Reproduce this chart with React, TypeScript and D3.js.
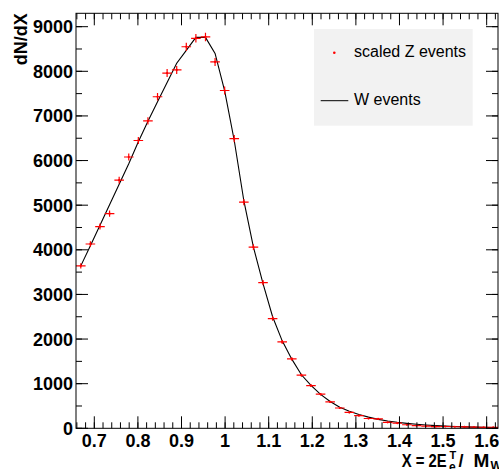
import React from "react";
import * as d3 from "d3";

// Bin centres (X = 2E_T / M_W)
const binCenters = [
  0.669, 0.691, 0.713, 0.735, 0.757, 0.779, 0.801, 0.823, 0.845, 0.867, 0.889,
  0.911, 0.933, 0.955, 0.977, 0.999, 1.021, 1.043, 1.065, 1.087, 1.109, 1.131,
  1.153, 1.175, 1.197, 1.219, 1.241, 1.263, 1.285, 1.307, 1.329, 1.351, 1.373,
  1.395, 1.417, 1.439, 1.461, 1.483, 1.505, 1.527, 1.549, 1.571, 1.593, 1.615,
];

// scaled Z events (red markers)
const zEvents = [
  3640, 4130, 4520, 4810, 5560, 6080, 6450, 6890, 7430, 7960, 8030,
  8550, 8740, 8770, 8210, 7570, 6490, 5070, 4060, 3265, 2460, 1935,
  1555, 1190, 955, 765, 590, 455, 355, 285, 220, 210, 135,
  115, 80, 60, 50, 38, 40, 35, 30, 25, 20, 20,
];

// W events (black line)
const wEvents = [
  3640, 4090, 4550, 5010, 5470, 5930, 6420, 6880, 7320, 7750, 8180,
  8470, 8760, 8760, 8400, 7560, 6450, 5100, 4060, 3240, 2500, 1960,
  1550, 1200, 960, 760, 600, 470, 380, 310, 250, 200, 165,
  135, 110, 90, 73, 60, 50, 40, 33, 27, 22, 18,
];

const xTickValues = [0.7, 0.8, 0.9, 1.0, 1.1, 1.2, 1.3, 1.4, 1.5, 1.6];
const yTickValues = [0, 1000, 2000, 3000, 4000, 5000, 6000, 7000, 8000, 9000];
const binHalfWidth = 0.011;

const W = 499;
const H = 469;
const L = 76;
const R = 498;
const T = 13.3;
const B = 428.3;
const FONT = "'Liberation Sans', Arial, Helvetica, sans-serif";

export default function App() {
  const x = d3.scaleLinear().domain([0.658, 1.626]).range([L, R]);
  const y = d3.scaleLinear().domain([0, 9300]).range([B, T]);

  const xMinor = d3.range(0.66, 1.6201, 0.02).filter((v) => x(v) > L && x(v) < R);
  const yMinor = d3.range(0, 9300, 500);

  const line = d3
    .line<number>()
    .x((_, i) => x(binCenters[i]))
    .y((d) => y(d));

  const majorLen = 12;
  const minorLen = 6;

  return (
    <svg
      width={W}
      height={H}
      style={{ position: "absolute", left: 0, top: 0, background: "#fff" }}
    >
      <defs>
        <clipPath id="plot">
          <rect x={L} y={T} width={R - L} height={B - T} />
        </clipPath>
      </defs>
      <rect x={0} y={0} width={W} height={H} fill="#fff" />

      {/* legend */}
      <rect x={314} y={29} width={158.7} height={96.7} fill="#f2f2f2" />
      <circle cx={334.3} cy={52.7} r={1.3} fill="#ff0000" />
      <text x={354} y={57} fontFamily={FONT} fontSize={16} fill="#000">
        scaled Z events
      </text>
      <line x1={320.7} x2={348.3} y1={100.7} y2={100.7} stroke="#000" strokeWidth={1} />
      <text x={354} y={105} fontFamily={FONT} fontSize={16} fill="#000">
        W events
      </text>

      <g clipPath="url(#plot)">
        {/* W events line */}
        <path d={line(wEvents) || ""} fill="none" stroke="#000" strokeWidth={1.1} />
        {/* Z markers with error bars */}
        {zEvents.map((v, i) => {
          const cx = x(binCenters[i]);
          const cy = y(v);
          const err = Math.sqrt(v);
          return (
            <g key={i} stroke="#ff0000" strokeWidth={1.2}>
              <line x1={x(binCenters[i] - binHalfWidth)} x2={x(binCenters[i] + binHalfWidth)} y1={cy} y2={cy} />
              <line x1={cx} x2={cx} y1={y(v - err)} y2={y(v + err)} />
              <circle cx={cx} cy={cy} r={1.1} fill="#ff0000" stroke="none" />
            </g>
          );
        })}
      </g>

      {/* frame */}
      <rect x={L} y={T} width={R - L} height={B - T} fill="none" stroke="#000" strokeWidth={1} />

      {/* x ticks bottom & top */}
      {xTickValues.map((v) => (
        <g key={"xt" + v} stroke="#000" strokeWidth={1}>
          <line x1={x(v)} x2={x(v)} y1={B} y2={B - majorLen} />
          <line x1={x(v)} x2={x(v)} y1={T} y2={T + majorLen} />
        </g>
      ))}
      {xMinor.map((v) => (
        <g key={"xm" + v} stroke="#000" strokeWidth={1}>
          <line x1={x(v)} x2={x(v)} y1={B} y2={B - minorLen} />
          <line x1={x(v)} x2={x(v)} y1={T} y2={T + minorLen} />
        </g>
      ))}
      {/* y ticks left & right */}
      {yTickValues.map((v) => (
        <g key={"yt" + v} stroke="#000" strokeWidth={1}>
          <line x1={L} x2={L + majorLen} y1={y(v)} y2={y(v)} />
          <line x1={R} x2={R - majorLen} y1={y(v)} y2={y(v)} />
        </g>
      ))}
      {yMinor.map((v) => (
        <g key={"ym" + v} stroke="#000" strokeWidth={1}>
          <line x1={L} x2={L + minorLen} y1={y(v)} y2={y(v)} />
          <line x1={R} x2={R - minorLen} y1={y(v)} y2={y(v)} />
        </g>
      ))}

      {/* tick labels */}
      {xTickValues.map((v) => (
        <text
          key={"xl" + v}
          x={x(v)}
          y={447}
          textAnchor="middle"
          fontFamily={FONT}
          fontWeight="bold"
          fontSize={18}
          fill="#000"
        >
          {String(+v.toFixed(1))}
        </text>
      ))}
      {yTickValues.map((v) => (
        <text
          key={"yl" + v}
          x={73}
          y={y(v)}
          dy="0.36em"
          textAnchor="end"
          fontFamily={FONT}
          fontWeight="bold"
          fontSize={18}
          fill="#000"
        >
          {v}
        </text>
      ))}

      {/* axis titles */}
      <text
        transform={`translate(26.5, ${T}) rotate(-90)`}
        textAnchor="end"
        fontFamily={FONT}
        fontWeight="bold"
        fontSize={18}
        fill="#000"
      >
        dN/dX
      </text>
      <g fontFamily={FONT} fontWeight="bold" fill="#000">
        <text x={401.7} y={466.5} fontSize={18} textLength={45} lengthAdjust="spacingAndGlyphs">
          X = 2E
        </text>
        <text x={449.5} y={458.5} fontSize={11}>T</text>
        <text x={449} y={471} fontSize={12}>e</text>
        <text x={458.5} y={466.5} fontSize={18}>/</text>
        <text x={473.5} y={466.5} fontSize={19}>M</text>
        <text x={490.5} y={469.5} fontSize={12}>W</text>
      </g>
    </svg>
  );
}
